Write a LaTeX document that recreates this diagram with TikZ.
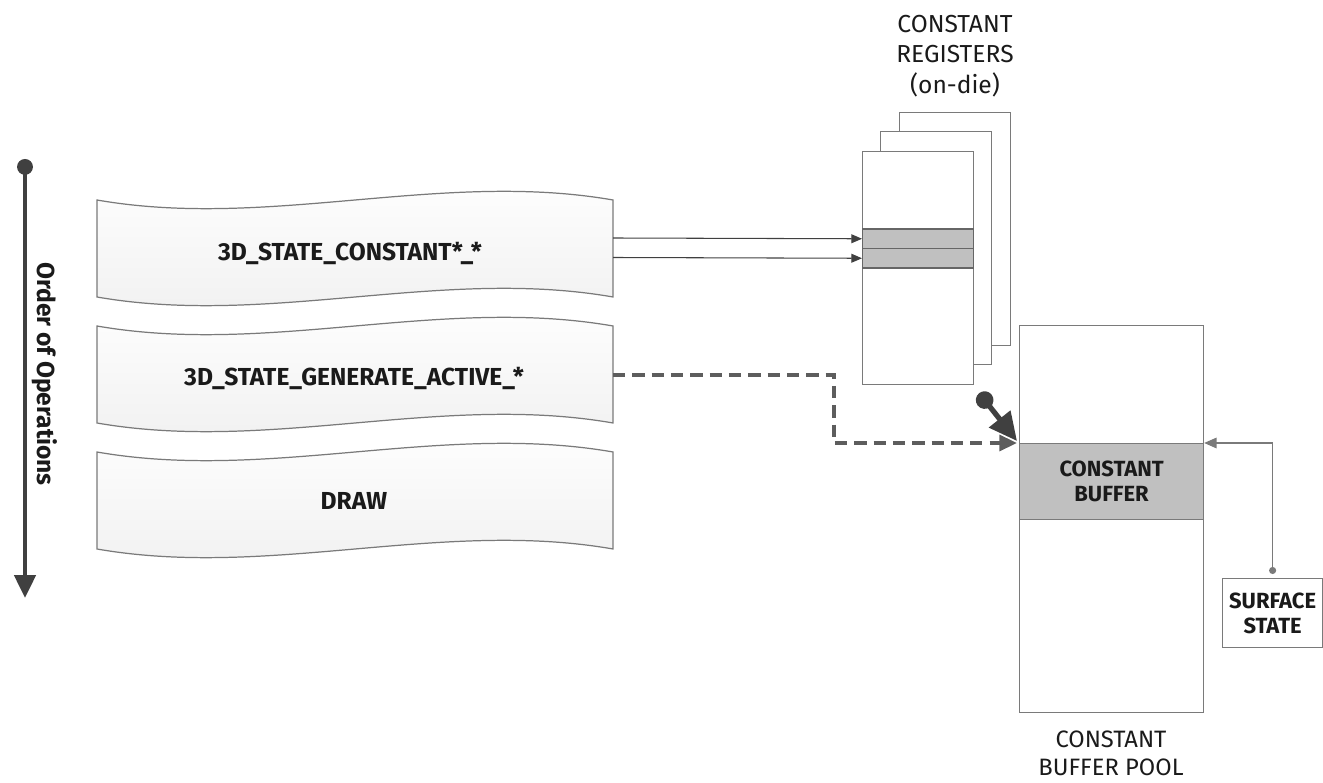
\documentclass[tikz,border=0pt]{standalone}
\usepackage{fontspec}
\setmainfont{Fira Sans}
\usetikzlibrary{arrows.meta}
\definecolor{dk}{HTML}{404040}
\definecolor{ol}{HTML}{7A7A7A}
\definecolor{band}{HTML}{C0C0C0}
\definecolor{txt}{HTML}{1A1A1A}
\tikzset{
  wavebox/.style={draw=ol, line width=0.7pt, top color=white, bottom color=black!6},
  lbl/.style={font=\fontsize{14}{16}\selectfont\bfseries, text=txt},
  captxt/.style={font=\fontsize{14}{17.5}\selectfont, text=txt, align=center},
  captxtb/.style={font=\fontsize{12.5}{14}\selectfont\bfseries, text=txt, align=center},
  regbox/.style={draw=ol, line width=0.7pt, fill=white, minimum width=2.22cm, minimum height=4.66cm, inner sep=0pt, anchor=north west},
  bandbox/.style={draw=dk!80, line width=0.6pt, fill=band, minimum width=2.22cm, minimum height=0.39cm, inner sep=0pt, anchor=north west},
  thinarrow/.style={draw=dk, line width=0.6pt, -{Triangle[length=6pt,width=5pt]}},
  dasharrow/.style={draw=dk!85, line width=2pt, dash pattern=on 7pt off 4pt, -{Triangle[length=10pt,width=9pt]}},
  thickarrow/.style={draw=dk, line width=3pt, {Circle[length=10pt]}-{Triangle[length=16pt,width=15pt]}},
  grayarrow/.style={draw=ol, line width=0.7pt, {Circle[length=4pt]}-{Triangle[length=7pt,width=6pt]}},
  orderarrow/.style={draw=dk, line width=2.3pt, {Circle[length=9pt]}-{Triangle[length=13pt,width=12pt]}},
}
\newcommand\wavepath[1]{%
  \path[wavebox] (97,#1) .. controls (269,#1+30) and (441,#1-30) .. (613,#1)
    -- (613,#1+97) .. controls (441,#1+67) and (269,#1+127) .. (97,#1+97) -- cycle;}
\begin{document}
\begin{tikzpicture}[x=0.02cm,y=-0.02cm]
\useasboundingbox (0,0) rectangle (1323,783);

% order of operations
\coordinate (ot) at (25,159);
\coordinate (ob) at (25,598);
\draw[orderarrow] (ot) -- (ob);
\node[lbl, rotate=-90] (order) at (45,374) {Order of Operations};

% wave boxes
\wavepath{200}
\wavepath{326}
\wavepath{452}
\node[lbl] (t1) at (350,253) {3D\_STATE\_CONSTANT*\_*};
\node[lbl] (t2) at (354,378) {3D\_STATE\_GENERATE\_ACTIVE\_*};
\node[lbl] (t3) at (354,501) {DRAW};

% constant registers
\node[regbox] (regback) at (899,112) {};
\node[regbox] (regmid) at (880,131) {};
\node[regbox] (regfront) at (862,151) {};
\node[bandbox] (band1) at (862,228.5) {};
\node[bandbox] (band2) at (862,248) {};
\node[captxt] (reglbl) at (955,56) {CONSTANT\\REGISTERS\\(on-die)};

% constant buffer pool
\node[draw=ol, line width=0.7pt, fill=white, minimum width=3.68cm, minimum height=7.74cm, inner sep=0pt, anchor=north west] (pool) at (1019,325) {};
\node[draw=ol, line width=0.7pt, fill=band, minimum width=3.68cm, minimum height=1.52cm, inner sep=0pt, anchor=north west, captxtb] (cb) at (1019,443) {CONSTANT\\BUFFER};
\node[captxt, font=\fontsize{13.5}{16}\selectfont, inner sep=1pt] (poollbl) at (1111,753) {CONSTANT\\BUFFER POOL};

% surface state
\node[draw=ol, line width=0.7pt, fill=white, minimum width=2.0cm, minimum height=1.38cm, inner sep=0pt, anchor=north west, captxtb] (ss) at (1222,578) {SURFACE\\STATE};

% connectors
\coordinate (a1) at (613,238);
\coordinate (a2) at (613,257.5);
\draw[thinarrow] (a1) -- (band1.west);
\draw[thinarrow] (a2) -- (band2.west);

\coordinate (d1) at (613,375);
\coordinate (d2) at (834,375);
\coordinate (d3) at (834,443);
\draw[dasharrow] (d1) -- (d2) -- (d3) -- ([shift={(-2,0)}]cb.north west);

\draw[thickarrow] ([shift={(5,8)}]regfront.south east) -- ([shift={(-2,-2)}]cb.north west);

\draw[grayarrow] ([shift={(0,-4)}]ss.north) |- (cb.north east);
\end{tikzpicture}
\end{document}
